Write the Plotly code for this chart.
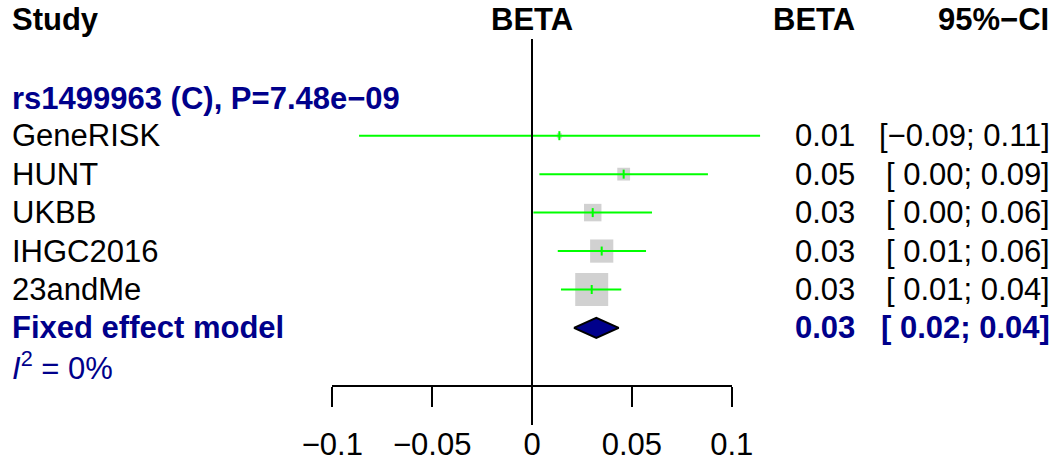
import plotly.graph_objects as go
import math

# ---------------- data ----------------
studies = ["GeneRISK", "HUNT", "UKBB", "IHGC2016", "23andMe"]
beta = [0.0137, 0.0459, 0.0304, 0.0349, 0.0299]
ci_lo = [-0.0866, 0.0037, 0.0007, 0.0129, 0.0145]
ci_hi = [0.1142, 0.0881, 0.0601, 0.0571, 0.0447]
weights = [1.2, 7.7, 14.4, 25.4, 51.3]

fixed_label = "Fixed effect model"
fixed_beta = 0.0322
fixed_lo = 0.0210
fixed_hi = 0.0434

snp_label = "rs1499963 (C), P=7.48e\u221209"
i2_text = "<i>I</i><sup>2</sup> = 0%"

tick_vals = [-0.1, -0.05, 0, 0.05, 0.1]
tick_text = ["\u22120.1", "\u22120.05", "0", "0.05", "0.1"]

# ---------------- layout constants (pixel coords) ----------------
W, H = 1061, 461
X_LEFT_PX, X_RIGHT_PX = 332.3, 731.7          # px of -0.1 and 0.1
PPU = (X_RIGHT_PX - X_LEFT_PX) / 0.2
AXIS_PX = 385
ROW0, STEP = 135.7, 38.45
HEADER_Y = 19.5
TEXT_DY = 0
FONT = "Liberation Sans, Arial, sans-serif"
FS = 31
NAVY = "#00008B"
GREEN = "#00FF00"
GREY = "#BEBEBE"
MAX_BOX = 33


def row_y(i):
    return ROW0 + STEP * i


def fmt(v):
    return ("\u2212" if v < 0 else "") + f"{abs(v):.2f}"


def fmt_ci(lo, hi):
    lo_s = ("\u2212" if lo < 0 else " ") + f"{abs(lo):.2f}"
    return f"[{lo_s}; {fmt(hi)}]"


ys = [row_y(i) for i in range(len(studies))]
fixed_y = row_y(len(studies))
wmax = max(weights)
box_sizes = [MAX_BOX * math.sqrt(w / wmax) for w in weights]

fig = go.Figure()

# grey weight boxes
fig.add_trace(go.Scatter(
    x=beta, y=ys, mode="markers",
    marker=dict(symbol="square", size=box_sizes, color=GREY, line=dict(width=0)),
    hoverinfo="skip"))

# confidence interval lines
cx, cy = [], []
for lo, hi, y in zip(ci_lo, ci_hi, ys):
    cx += [lo, hi, None]
    cy += [y, y, None]
fig.add_trace(go.Scatter(x=cx, y=cy, mode="lines",
                         line=dict(color=GREEN, width=2), hoverinfo="skip"))

# small vertical tick at each estimate
tx, ty = [], []
for b, y in zip(beta, ys):
    tx += [b, b, None]
    ty += [y - 4.5, y + 4.5, None]
fig.add_trace(go.Scatter(x=tx, y=ty, mode="lines",
                         line=dict(color=GREEN, width=2), hoverinfo="skip"))

# diamond for fixed-effect
fig.add_trace(go.Scatter(
    x=[fixed_lo, fixed_beta, fixed_hi, fixed_beta, fixed_lo],
    y=[fixed_y, fixed_y - 10, fixed_y, fixed_y + 10, fixed_y],
    mode="lines", fill="toself", fillcolor=NAVY,
    line=dict(color="black", width=2), hoverinfo="skip"))

# dummy trace to create the tick axis subplot
fig.add_trace(go.Scatter(x=[], y=[], xaxis="x2", yaxis="y2", hoverinfo="skip"))

# zero reference line
fig.add_shape(type="line", xref="x", yref="y", x0=0, x1=0, y0=39, y1=425,
              line=dict(color="black", width=2))

ann = []


def add_text(text, xpx, y, anchor="left", color="black", bold=False):
    ann.append(dict(
        text=f"<b>{text}</b>" if bold else text,
        xref="paper", yref="y", x=xpx / W, y=y + TEXT_DY,
        xanchor=anchor, yanchor="middle", showarrow=False,
        font=dict(family=FONT, size=FS, color=color)))


# headers
add_text("Study", 10, HEADER_Y, bold=True)
add_text("BETA", 532, HEADER_Y, anchor="center", bold=True)
add_text("BETA", 857, HEADER_Y, anchor="right", bold=True)
add_text("95%\u2212CI", 1051, HEADER_Y, anchor="right", bold=True)

add_text(snp_label, 10, row_y(-1) + 1, color=NAVY, bold=True)
for s, b, lo, hi, y in zip(studies, beta, ci_lo, ci_hi, ys):
    add_text(s, 10, y)
    add_text(fmt(b), 857, y, anchor="right")
    add_text(fmt_ci(lo, hi), 1052, y, anchor="right")

add_text(fixed_label, 10, fixed_y, color=NAVY, bold=True)
add_text(fmt(fixed_beta), 857, fixed_y, anchor="right", color=NAVY, bold=True)
add_text(fmt_ci(fixed_lo, fixed_hi), 1052, fixed_y, anchor="right", color=NAVY, bold=True)
add_text(i2_text, 10, row_y(len(studies) + 1), color=NAVY)

fig.update_layout(
    width=W, height=H,
    margin=dict(l=0, r=0, t=0, b=0, pad=0, autoexpand=False),
    paper_bgcolor="white", plot_bgcolor="rgba(0,0,0,0)",
    showlegend=False,
    annotations=ann,
    xaxis=dict(domain=[0, 1],
               range=[-0.1 - X_LEFT_PX / PPU, 0.1 + (W - X_RIGHT_PX) / PPU],
               visible=False, fixedrange=True),
    yaxis=dict(domain=[0, 1], range=[H, 0], visible=False, fixedrange=True),
    xaxis2=dict(domain=[X_LEFT_PX / W, X_RIGHT_PX / W], anchor="y2",
                range=[-0.1, 0.1], tickvals=tick_vals, ticktext=tick_text,
                ticks="outside", ticklen=20, tickwidth=2, tickcolor="black",
                ticklabelstandoff=11,
                showline=True, linewidth=2, linecolor="black",
                showgrid=False, zeroline=False, fixedrange=True,
                tickfont=dict(family=FONT, size=FS, color="black")),
    yaxis2=dict(domain=[1 - AXIS_PX / H, 1], range=[0, 1], visible=False,
                fixedrange=True),
)

fig.write_html("out.html",
               config={"displayModeBar": False},
               post_script="document.body.style.margin='0';"
                           "document.body.style.overflow='hidden';")
